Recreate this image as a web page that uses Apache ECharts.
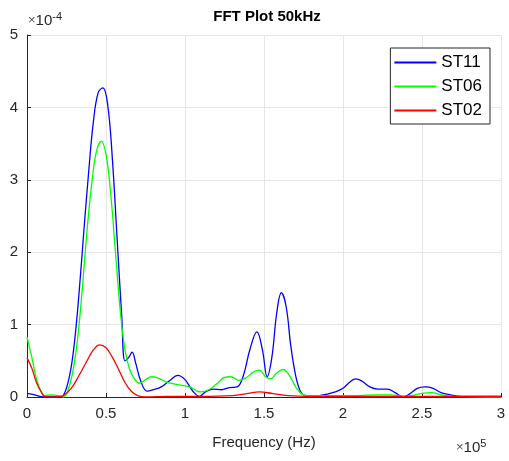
<!DOCTYPE html>
<html>
<head>
<meta charset="utf-8">
<style>
  html, body { margin: 0; padding: 0; background: #fff; }
  #chart { width: 509px; height: 461px; }
</style>
<script src="https://cdn.jsdelivr.net/npm/echarts@6/dist/echarts.min.js"></script>
</head>
<body>
<div id="chart"></div>
<script>
// Frequency in units of 1e5 Hz, amplitude in units of 1e-4.
const xTicks = [0, 0.5, 1, 1.5, 2, 2.5, 3];
const yTicks = [0, 1, 2, 3, 4, 5];

const st11Freq = [0, 0.05, 0.1, 0.15, 0.2, 0.23, 0.27, 0.3, 0.33, 0.36, 0.39, 0.42, 0.45, 0.48, 0.51, 0.54, 0.57, 0.6, 0.62, 0.645, 0.665, 0.69, 0.72, 0.76, 0.8, 0.85, 0.9, 0.955, 1.0, 1.05, 1.09, 1.13, 1.18, 1.23, 1.28, 1.33, 1.37, 1.41, 1.455, 1.49, 1.52, 1.55, 1.58, 1.61, 1.64, 1.67, 1.7, 1.73, 1.76, 1.8, 1.85, 1.9, 1.95, 2.0, 2.04, 2.08, 2.12, 2.17, 2.22, 2.28, 2.33, 2.38, 2.42, 2.47, 2.52, 2.57, 2.62, 2.68, 2.75, 2.85, 3.0];
const st11Amp = [0.05, 0.03, 0.0, 0.01, 0.0, 0.02, 0.3, 0.75, 1.45, 2.3, 3.1, 3.8, 4.2, 4.27, 4.05, 3.3, 2.2, 1.1, 0.5, 0.55, 0.62, 0.45, 0.22, 0.08, 0.1, 0.14, 0.22, 0.30, 0.24, 0.08, 0.01, 0.07, 0.11, 0.10, 0.13, 0.14, 0.3, 0.65, 0.9, 0.65, 0.28, 0.55, 1.15, 1.44, 1.25, 0.7, 0.3, 0.08, 0.02, 0.01, 0.02, 0.04, 0.07, 0.12, 0.2, 0.25, 0.22, 0.14, 0.11, 0.11, 0.06, 0.0, 0.04, 0.12, 0.14, 0.12, 0.06, 0.03, 0.01, 0.01, 0.01];

const st06Freq = [0, 0.03, 0.06, 0.09, 0.11, 0.15, 0.2, 0.23, 0.26, 0.29, 0.32, 0.35, 0.38, 0.41, 0.44, 0.47, 0.5, 0.53, 0.56, 0.59, 0.62, 0.65, 0.68, 0.71, 0.75, 0.79, 0.83, 0.88, 0.93, 0.98, 1.03, 1.07, 1.1, 1.15, 1.2, 1.25, 1.29, 1.34, 1.39, 1.43, 1.47, 1.51, 1.54, 1.58, 1.62, 1.66, 1.7, 1.74, 1.78, 1.9, 2.0, 2.1, 2.2, 2.3, 2.4, 2.5, 2.56, 2.62, 2.7, 3.0];
const st06Amp = [0.83, 0.55, 0.25, 0.07, 0.02, 0.03, 0.02, 0.0, 0.1, 0.35, 0.8, 1.5, 2.3, 2.95, 3.4, 3.53, 3.35, 2.8, 2.0, 1.2, 0.65, 0.38, 0.25, 0.19, 0.24, 0.28, 0.26, 0.21, 0.18, 0.16, 0.14, 0.09, 0.07, 0.1, 0.18, 0.27, 0.28, 0.23, 0.27, 0.34, 0.37, 0.28, 0.25, 0.33, 0.38, 0.3, 0.14, 0.04, 0.02, 0.02, 0.02, 0.02, 0.03, 0.03, 0.01, 0.05, 0.06, 0.03, 0.01, 0.0];

const st02Freq = [0, 0.03, 0.06, 0.09, 0.12, 0.18, 0.23, 0.28, 0.33, 0.38, 0.42, 0.46, 0.5, 0.54, 0.58, 0.62, 0.66, 0.7, 0.75, 0.9, 1.1, 1.3, 1.4, 1.47, 1.55, 1.65, 1.8, 2.2, 3.0];
const st02Amp = [0.54, 0.4, 0.2, 0.07, 0.0, 0.0, 0.02, 0.12, 0.3, 0.5, 0.65, 0.72, 0.68, 0.55, 0.38, 0.2, 0.08, 0.02, 0.0, 0.01, 0.01, 0.02, 0.05, 0.07, 0.05, 0.02, 0.01, 0.01, 0.01];

const seriesNames = ['ST11', 'ST06', 'ST02'];
const seriesColors = ['#0000ff', '#00ff00', '#ff0000'];

function pairs(xs, ys) { return xs.map((x, i) => [x, ys[i]]); }
const seriesData = [pairs(st11Freq, st11Amp), pairs(st06Freq, st06Amp), pairs(st02Freq, st02Amp)];

const font = 'Liberation Sans, Arial, Helvetica, sans-serif';
const axisColor = '#262626';

const chart = echarts.init(document.getElementById('chart'), null, { renderer: 'canvas' });
chart.setOption({
  animation: false,
  backgroundColor: '#ffffff',
  title: {
    text: 'FFT Plot 50kHz',
    left: 262, top: 4, textAlign: 'center',
    textStyle: { fontFamily: font, fontSize: 15, fontWeight: 'bold', color: '#000' }
  },
  grid: { left: 27, right: 8, top: 35, bottom: 64, containLabel: false },
  legend: {
    data: seriesNames,
    orient: 'vertical',
    right: 19, top: 48,
    padding: [6, 8, 5, 3],
    itemWidth: 42, itemHeight: 14, itemGap: 7,
    borderColor: axisColor, borderWidth: 1,
    backgroundColor: '#ffffff',
    itemStyle: { opacity: 0 },
    textStyle: { fontFamily: font, fontSize: 17, color: '#000' }
  },
  xAxis: {
    type: 'value', min: 0, max: 3, interval: 0.5,
    axisLine: { show: true, lineStyle: { color: axisColor, width: 1 } },
    axisTick: { show: true, inside: true, length: 4, lineStyle: { color: axisColor } },
    axisLabel: {
      fontFamily: font, fontSize: 15, color: axisColor, margin: 9,
      formatter: v => (xTicks.includes(v) ? String(v) : '')
    },
    splitLine: { show: true, lineStyle: { color: '#e6e6e6', width: 1 } },
    name: 'Frequency (Hz)', nameLocation: 'middle', nameGap: 38,
    nameTextStyle: { fontFamily: font, fontSize: 15, color: axisColor }
  },
  yAxis: {
    type: 'value', min: 0, max: 5, interval: 1,
    axisLine: { show: true, lineStyle: { color: axisColor, width: 1 } },
    axisTick: { show: true, inside: true, length: 4, lineStyle: { color: axisColor } },
    axisLabel: {
      fontFamily: font, fontSize: 15, color: axisColor, margin: 9,
      formatter: v => (yTicks.includes(v) ? String(v) : '')
    },
    splitLine: { show: true, lineStyle: { color: '#e6e6e6', width: 1 } }
  },
  graphic: [
    {
      type: 'text', left: 28, top: 11,
      style: {
        text: '{x|×}{b|10}{s|-4}',
        rich: {
          x: { fontFamily: font, fontSize: 13, fill: '#555' },
          b: { fontFamily: font, fontSize: 15, fill: axisColor },
          s: { fontFamily: font, fontSize: 11, fill: axisColor, verticalAlign: 'top', padding: [0, 0, 8, 0] }
        }
      }
    },
    {
      type: 'text', left: 456, top: 438,
      style: {
        text: '{x|×}{b|10}{s|5}',
        rich: {
          x: { fontFamily: font, fontSize: 13, fill: '#555' },
          b: { fontFamily: font, fontSize: 15, fill: axisColor },
          s: { fontFamily: font, fontSize: 11, fill: axisColor, verticalAlign: 'top', padding: [0, 0, 8, 0] }
        }
      }
    }
  ],
  series: seriesNames.map((name, i) => ({
    name,
    type: 'line',
    data: seriesData[i],
    smooth: 0.4,
    symbol: 'none',
    showSymbol: false,
    lineStyle: { color: seriesColors[i], width: 1.3 },
    itemStyle: { color: seriesColors[i] },
    z: 2 + i
  }))
});
</script>
</body>
</html>
